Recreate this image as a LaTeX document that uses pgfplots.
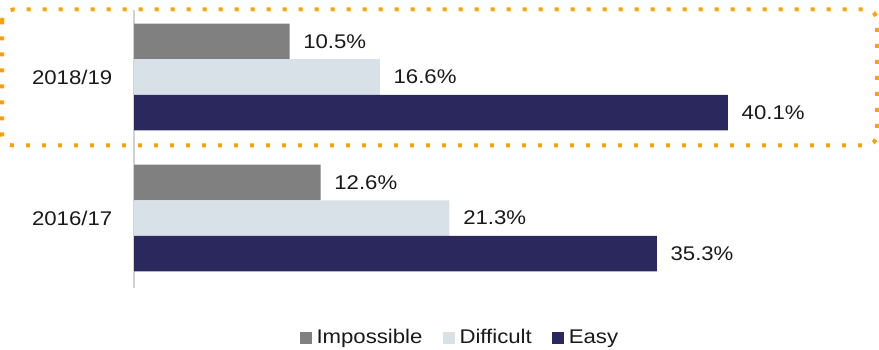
\documentclass[border=0pt]{standalone}
\usepackage{fontspec}
\setmainfont{Liberation Sans}[FakeStretch=1.12]
\usepackage{pgfplots}
\pgfplotsset{compat=1.18}
\definecolor{cimp}{RGB}{128,128,128}
\definecolor{cdif}{RGB}{217,225,232}
\definecolor{ceasy}{RGB}{43,40,94}
\definecolor{corange}{RGB}{255,160,10}
\definecolor{ctext}{RGB}{25,25,25}
\definecolor{caxis}{RGB}{210,210,210}
\begin{document}
\fontsize{19.8pt}{23pt}\selectfont
\color{ctext}
\begin{tikzpicture}
\path[use as bounding box] (0pt,0pt) rectangle (879pt,-350pt);
\begin{axis}[
  at={(134pt,-288pt)}, anchor=south west,
  scale only axis, width=740.5pt, height=278pt,
  xmin=0, xmax=50, ymin=-0.496, ymax=1.475,
  axis x line=none, axis y line*=left,
  y axis line style={draw=caxis, line width=1.6pt},
  ytick={0,1}, yticklabels={2016/17,2018/19},
  major tick length=0pt,
  yticklabel style={xshift=-15pt, text=ctext},
  xbar, bar width=0.252,
  point meta=explicit symbolic,
  nodes near coords,
  nodes near coords style={anchor=west, xshift=7pt, text=ctext},
  clip=false,
  legend columns=-1,
  legend style={at={(0.44,-0.18)}, anchor=center, draw=none, fill=none,
    /tikz/every even column/.append style={column sep=18pt}},
  legend image code/.code={\fill[#1] (0pt,-6pt) rectangle (12pt,6pt); \path (15pt,0pt);},
]
\addplot[fill=cimp, draw=none, bar shift=0.252] coordinates {(12.6,0) [12.6\%] (10.5,1) [10.5\%]};
\addplot[fill=cdif, draw=none, bar shift=0] coordinates {(21.3,0) [21.3\%] (16.6,1) [16.6\%]};
\addplot[fill=ceasy, draw=none, bar shift=-0.252] coordinates {(35.3,0) [35.3\%] (40.1,1) [40.1\%]};
\legend{Impossible,Difficult,Easy}
\end{axis}
\draw[corange, line width=4pt, dash pattern=on 4pt off 12pt, rounded corners=11pt]
  (2pt,-9.5pt) rectangle (877pt,-145.5pt);
\end{tikzpicture}
\end{document}
